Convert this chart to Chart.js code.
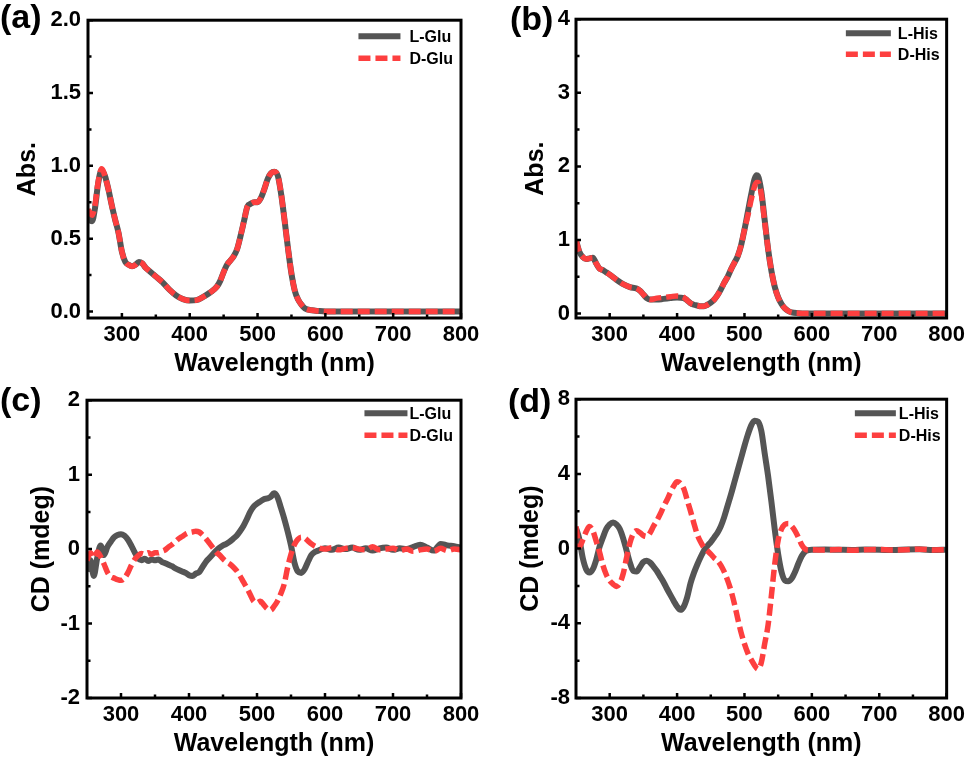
<!DOCTYPE html>
<html>
<head>
<meta charset="utf-8">
<script src="https://cdn.jsdelivr.net/npm/chart.js@4.4.0/dist/chart.umd.min.js"></script>
<style>
  body { margin: 0; background: #fff; width: 969px; height: 758px; position: relative; overflow: hidden; }
  canvas { position: absolute; }
  .tag { position: absolute; font: bold 34px "Liberation Sans", Arial, sans-serif; line-height: 34px; color: #000; }
</style>
</head>
<body>
<canvas id="chartA" width="484" height="379" style="left:0;top:0"></canvas>
<canvas id="chartB" width="485" height="379" style="left:484px;top:0"></canvas>
<canvas id="chartC" width="484" height="379" style="left:0;top:380px"></canvas>
<canvas id="chartD" width="485" height="379" style="left:484px;top:380px"></canvas>
<div class="tag" style="left:0;top:-1px">(a)</div>
<div class="tag" style="left:510px;top:1px">(b)</div>
<div class="tag" style="left:0;top:382px">(c)</div>
<div class="tag" style="left:508px;top:383px">(d)</div>
<script>
// x axis, shared by all four panels
const xTicks = [300, 400, 500, 600, 700, 800];
const xMinor = [350, 450, 550, 650, 750];

// (a) UV-vis, Glu
const wlAbsGlu = [250,253,256,260,265,270,275,280,285,290,295,300,305,310,315,320,325,330,335,340,350,360,370,380,390,400,410,420,430,440,445,450,455,460,465,470,475,480,485,490,495,500,505,510,515,520,525,530,535,540,545,550,555,560,565,570,580,590,600,650,700,750,800];
const absLGlu = [0.68,0.63,0.62,0.70,0.88,0.97,0.93,0.84,0.73,0.63,0.54,0.41,0.34,0.32,0.31,0.32,0.34,0.33,0.30,0.28,0.24,0.20,0.15,0.11,0.085,0.075,0.078,0.10,0.13,0.17,0.21,0.27,0.32,0.35,0.38,0.43,0.52,0.62,0.72,0.74,0.75,0.75,0.78,0.84,0.91,0.95,0.96,0.93,0.80,0.62,0.43,0.26,0.14,0.08,0.045,0.02,0.008,0.003,0,0,0,0,0];
const absDGlu = [0.70,0.68,0.66,0.72,0.89,0.98,0.93,0.84,0.73,0.63,0.54,0.41,0.34,0.32,0.31,0.32,0.34,0.33,0.30,0.28,0.24,0.20,0.15,0.11,0.085,0.075,0.078,0.10,0.13,0.17,0.21,0.27,0.32,0.35,0.38,0.43,0.52,0.62,0.72,0.74,0.75,0.75,0.78,0.84,0.91,0.95,0.96,0.93,0.80,0.62,0.43,0.26,0.14,0.08,0.045,0.02,0.008,0.003,0,0,0,0,0];
const yTicksA = [0, 0.5, 1, 1.5, 2];
const yMinorA = [0.25, 0.75, 1.25, 1.75];

// (b) UV-vis, His
const wlAbsHis = [250,255,260,265,270,275,280,285,290,295,300,310,320,330,340,345,350,355,360,370,380,390,400,410,415,420,425,430,435,440,445,450,455,460,465,470,475,480,485,490,495,500,505,510,515,518,520,525,530,535,540,545,550,555,560,565,570,580,590,650,700,750,800];
const absLHis = [1.00,0.84,0.77,0.74,0.75,0.76,0.68,0.61,0.59,0.56,0.53,0.46,0.40,0.36,0.34,0.31,0.26,0.21,0.19,0.19,0.20,0.21,0.22,0.21,0.18,0.14,0.12,0.11,0.10,0.10,0.12,0.15,0.19,0.25,0.33,0.42,0.50,0.60,0.69,0.78,0.93,1.14,1.38,1.62,1.83,1.88,1.87,1.66,1.27,0.88,0.58,0.36,0.22,0.13,0.07,0.035,0.015,0.005,0,0,0,0,0];
const absDHis = [1.00,0.84,0.77,0.74,0.75,0.76,0.68,0.61,0.59,0.56,0.53,0.46,0.40,0.36,0.34,0.31,0.26,0.21,0.19,0.21,0.22,0.23,0.24,0.22,0.18,0.14,0.12,0.11,0.10,0.10,0.12,0.15,0.19,0.25,0.33,0.42,0.50,0.60,0.69,0.78,0.93,1.14,1.33,1.55,1.73,1.78,1.78,1.62,1.25,0.88,0.58,0.36,0.22,0.13,0.07,0.035,0.015,0.005,0,0,0,0,0];
const yTicksB = [0, 1, 2, 3, 4];
const yMinorB = [0.5, 1.5, 2.5, 3.5];

// (c) CD, Glu
const wlCdGlu = [250,255,260,265,270,275,280,285,290,295,300,305,310,315,320,325,330,335,340,345,350,355,360,365,370,375,380,385,390,395,400,405,410,415,420,425,430,435,440,445,450,455,460,465,470,475,480,485,490,495,500,505,510,515,520,525,530,535,540,545,550,555,560,565,570,575,580,585,590,600,610,620,630,640,650,660,670,680,690,700,710,720,730,740,750,760,770,780,790,800];
const cdLGlu = [-0.30,-0.15,-0.36,-0.12,0.05,-0.08,0.03,0.10,0.16,0.19,0.20,0.18,0.13,0.05,-0.04,-0.12,-0.15,-0.13,-0.16,-0.14,-0.15,-0.14,-0.17,-0.19,-0.21,-0.23,-0.26,-0.28,-0.30,-0.32,-0.35,-0.36,-0.33,-0.31,-0.24,-0.17,-0.12,-0.07,-0.02,0.02,0.05,0.07,0.10,0.14,0.18,0.24,0.31,0.40,0.50,0.57,0.61,0.64,0.67,0.68,0.70,0.75,0.70,0.56,0.41,0.24,0.05,-0.18,-0.30,-0.32,-0.27,-0.17,-0.08,-0.04,-0.02,0.01,-0.01,0.02,0.00,0.02,-0.01,0.01,-0.02,0.01,0.02,-0.01,0.01,0.00,0.03,0.06,0.02,-0.02,0.07,0.05,0.04,0.02];
const cdDGlu = [-0.15,-0.05,-0.12,-0.04,-0.10,-0.20,-0.31,-0.37,-0.39,-0.41,-0.42,-0.39,-0.32,-0.22,-0.14,-0.09,-0.06,-0.07,-0.05,-0.07,-0.05,-0.05,-0.03,-0.01,0.03,0.06,0.10,0.14,0.17,0.20,0.22,0.23,0.24,0.23,0.19,0.14,0.08,0.02,-0.04,-0.08,-0.13,-0.17,-0.20,-0.24,-0.29,-0.36,-0.44,-0.52,-0.61,-0.70,-0.72,-0.70,-0.75,-0.80,-0.82,-0.77,-0.70,-0.60,-0.47,-0.25,-0.07,0.06,0.13,0.16,0.15,0.11,0.07,0.04,0.02,0.00,0.02,-0.01,0.01,0.02,0.00,-0.01,0.03,-0.01,0.00,0.01,-0.02,0.00,-0.03,-0.01,0.00,-0.03,0.01,-0.02,0.00,-0.01];
const yTicksC = [-2, -1, 0, 1, 2];
const yMinorC = [-1.5, -0.5, 0.5, 1.5];

// (d) CD, His
const wlCdHis = [250,255,260,265,270,275,280,285,290,295,300,305,310,315,320,325,330,335,340,345,350,355,360,365,370,375,380,385,390,395,400,405,410,415,420,425,430,435,440,445,450,455,460,465,470,475,480,485,490,495,500,505,510,515,520,525,530,535,540,545,550,555,560,565,570,575,580,585,590,595,600,620,640,660,680,700,720,740,760,780,800];
const cdLHis = [1.1,0.5,-0.5,-1.1,-1.28,-1.1,-0.6,0.1,0.6,1.05,1.3,1.4,1.3,1.05,0.55,-0.1,-0.75,-1.2,-1.22,-0.98,-0.72,-0.65,-0.75,-0.96,-1.2,-1.5,-1.8,-2.15,-2.48,-2.8,-3.1,-3.28,-3.1,-2.6,-1.85,-1.3,-0.85,-0.45,-0.1,0.15,0.35,0.6,0.85,1.2,1.7,2.3,2.9,3.55,4.2,4.85,5.5,6.1,6.6,6.85,6.8,6.3,5.1,3.9,2.5,1.0,-0.3,-1.25,-1.7,-1.75,-1.6,-1.25,-0.8,-0.4,-0.15,-0.08,-0.06,-0.05,-0.06,-0.07,-0.05,-0.06,-0.08,-0.05,-0.04,-0.08,-0.06];
const cdDHis = [1.18,0.1,0.46,0.9,1.18,0.95,0.4,-0.2,-0.9,-1.4,-1.72,-1.9,-2.03,-1.85,-1.35,-0.5,0.3,0.8,0.95,0.85,0.7,0.65,0.85,1.2,1.5,1.85,2.25,2.6,3.0,3.35,3.58,3.5,3.2,2.6,2.0,1.35,0.75,0.35,0.05,-0.12,-0.3,-0.5,-0.65,-0.9,-1.25,-1.7,-2.25,-2.95,-3.75,-4.5,-5.1,-5.6,-5.95,-6.25,-6.45,-6.1,-5.1,-4.1,-2.5,-0.8,0.45,1.05,1.3,1.35,1.2,0.95,0.6,0.2,-0.02,-0.08,-0.06,-0.08,-0.05,-0.09,-0.06,-0.05,-0.07,-0.06,-0.03,-0.07,-0.06];
const yTicksD = [-8, -4, 0, 4, 8];
const yMinorD = [-6, -2, 2, 6];

const gray = '#555555';
const red = '#fd3f3f';
const family = '"Liberation Sans", Arial, sans-serif';

// box frame + inward ticks (major and minor), drawn from the scales
const frameAndTicks = {
  id: 'frameAndTicks',
  afterDatasetsDraw(chart, args, opts) {
    const ctx = chart.ctx;
    const a = chart.chartArea;
    const xs = chart.scales.x, ys = chart.scales.y;
    ctx.save();
    ctx.strokeStyle = '#000';
    ctx.lineWidth = 2.5;
    ctx.beginPath();
    xTicks.forEach(v => { const p = xs.getPixelForValue(v); ctx.moveTo(p, a.bottom); ctx.lineTo(p, a.bottom - 5); });
    xMinor.forEach(v => { const p = xs.getPixelForValue(v); ctx.moveTo(p, a.bottom); ctx.lineTo(p, a.bottom - 3.5); });
    opts.yMajor.forEach(v => { const p = ys.getPixelForValue(v); ctx.moveTo(a.left, p); ctx.lineTo(a.left + 5, p); });
    opts.yMinor.forEach(v => { const p = ys.getPixelForValue(v); ctx.moveTo(a.left, p); ctx.lineTo(a.left + 3.5, p); });
    ctx.stroke();
    ctx.lineWidth = 3;
    ctx.strokeRect(a.left, a.top, a.right - a.left, a.bottom - a.top);
    ctx.restore();
  }
};

// legend inside the top right corner of the plot box
const insideLegend = {
  id: 'insideLegend',
  afterDraw(chart, args, opts) {
    const ctx = chart.ctx;
    const a = chart.chartArea;
    const ds = chart.data.datasets;
    ctx.save();
    ctx.font = 'bold 16px ' + family;
    const textW = Math.max(...ds.map(d => ctx.measureText(d.label).width));
    const textX = a.right - opts.right - textW;
    ds.forEach((d, i) => {
      const cy = a.top + opts.top + i * opts.rowGap;
      ctx.strokeStyle = d.borderColor;
      ctx.lineWidth = d.borderWidth;
      ctx.setLineDash(d.borderDash || []);
      ctx.beginPath();
      ctx.moveTo(textX - opts.gap - opts.swatch, cy);
      ctx.lineTo(textX - opts.gap, cy);
      ctx.stroke();
      ctx.setLineDash([]);
      ctx.fillStyle = '#000';
      ctx.textAlign = 'left';
      ctx.textBaseline = 'middle';
      ctx.fillText(d.label, textX, cy + 1);
    });
    ctx.restore();
  }
};

function points(xs, ys) {
  return xs.map((x, i) => ({ x: x, y: ys[i] }));
}

function makePanel(id, p) {
  return new Chart(document.getElementById(id), {
    type: 'line',
    data: {
      datasets: [
        { label: p.names[0], data: points(p.wl, p.valL), borderColor: gray, borderWidth: 6,
          pointRadius: 0, cubicInterpolationMode: 'monotone', order: 1 },
        { label: p.names[1], data: points(p.wl, p.valD), borderColor: red, borderWidth: 5.5,
          borderDash: [12, 5], pointRadius: 0, cubicInterpolationMode: 'monotone', order: 0 }
      ]
    },
    options: {
      responsive: false,
      animation: false,
      devicePixelRatio: 1,
      layout: { padding: { top: 19, right: p.padRight, left: 0, bottom: 0 } },
      scales: {
        x: {
          type: 'linear', min: 250, max: 800,
          afterBuildTicks: s => { s.ticks = xTicks.map(v => ({ value: v })); },
          afterFit: s => { s.height = 61; },
          grid: { display: false, drawTicks: false, tickLength: 0 },
          border: { display: false },
          ticks: { color: '#000', font: { family: family, size: 22, weight: 'bold' }, padding: 4, maxRotation: 0, autoSkip: false },
          title: { display: true, text: 'Wavelength (nm)', color: '#000',
                   font: { family: family, size: 25, weight: 'bold' }, padding: { top: 0, bottom: 0 } }
        },
        y: {
          type: 'linear', min: p.yMin, max: p.yMax,
          afterBuildTicks: s => { s.ticks = p.yTicks.map(v => ({ value: v })); },
          afterFit: s => { s.width = p.yWidth; },
          grid: { display: false, drawTicks: false, tickLength: 0 },
          border: { display: false },
          ticks: { color: '#000', font: { family: family, size: 22, weight: 'bold' }, padding: p.yPad,
                   autoSkip: false, callback: v => v.toFixed(p.dec) },
          title: { display: true, text: p.yTitle, color: '#000',
                   font: { family: family, size: 25, weight: 'bold' }, padding: { top: p.titlePad, bottom: 0 } }
        }
      },
      plugins: {
        legend: { display: false },
        tooltip: { enabled: false },
        frameAndTicks: { yMajor: p.yTicks, yMinor: p.yMinor },
        insideLegend: p.legend
      }
    },
    plugins: [frameAndTicks, insideLegend]
  });
}

makePanel('chartA', {
  names: ['L-Glu', 'D-Glu'], wl: wlAbsGlu, valL: absLGlu, valD: absDGlu,
  yMin: -0.045, yMax: 2, yTicks: yTicksA, yMinor: yMinorA, dec: 1, yTitle: 'Abs.',
  yWidth: 88, padRight: 23, yPad: 7, titlePad: 13,
  legend: { top: 16, rowGap: 22, right: 8, gap: 9, swatch: 42 }
});
makePanel('chartB', {
  names: ['L-His', 'D-His'], wl: wlAbsHis, valL: absLHis, valD: absDHis,
  yMin: -0.06, yMax: 4, yTicks: yTicksB, yMinor: yMinorB, dec: 0, yTitle: 'Abs.',
  yWidth: 92, padRight: 20, yPad: 6, titlePad: 37,
  legend: { top: 14, rowGap: 21, right: 7, gap: 7, swatch: 45 }
});
makePanel('chartC', {
  names: ['L-Glu', 'D-Glu'], wl: wlCdGlu, valL: cdLGlu, valD: cdDGlu,
  yMin: -2, yMax: 2, yTicks: yTicksC, yMinor: yMinorC, dec: 0, yTitle: 'CD (mdeg)',
  yWidth: 87, padRight: 23, yPad: 7, titlePad: 27,
  legend: { top: 13, rowGap: 22, right: 8, gap: 2, swatch: 43 }
});
makePanel('chartD', {
  names: ['L-His', 'D-His'], wl: wlCdHis, valL: cdLHis, valD: cdDHis,
  yMin: -8, yMax: 8, yTicks: yTicksD, yMinor: yMinorD, dec: 0, yTitle: 'CD (mdeg)',
  yWidth: 92, padRight: 20, yPad: 6, titlePad: 32,
  legend: { top: 14, rowGap: 22, right: 6, gap: 3, swatch: 41 }
});
</script>
</body>
</html>
